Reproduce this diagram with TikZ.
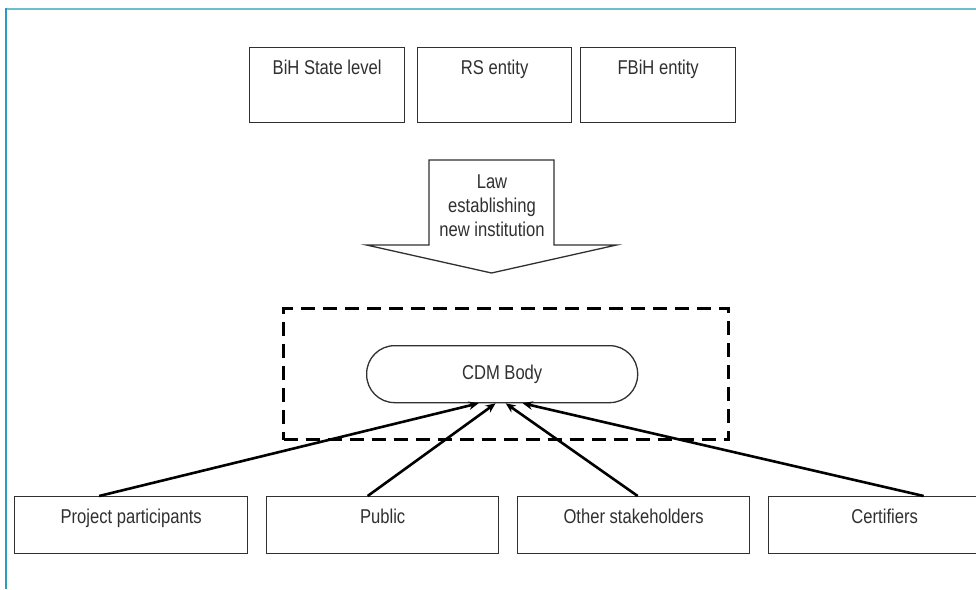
\documentclass[tikz,border=0pt]{standalone}
\usepackage{fontspec}
\setmainfont{Liberation Sans}[FakeStretch=0.83]
\usetikzlibrary{arrows.meta}
\definecolor{frametop}{HTML}{6DBFCB}
\definecolor{frameleft}{HTML}{2A9CC0}
\definecolor{ink}{HTML}{303030}

\begin{document}
\begin{tikzpicture}[x=1pt,y=-1pt,
  box/.style={draw=ink, line width=1.3pt, anchor=north west, inner sep=0pt},
  lbl/.style={text=ink, font=\fontsize{20}{24}\selectfont, inner sep=0pt, anchor=base},
  conn/.style={draw=black, line width=2.6pt, -{Stealth[length=10pt,width=8.5pt]}},
  group/.style={draw=black, line width=3pt, dash pattern=on 14pt off 8pt, anchor=north west, inner sep=0pt},
  pill/.style={draw=ink, line width=1.3pt, rounded corners=28pt, anchor=north west, inner sep=0pt,
    text=ink, font=\fontsize{20}{24}\selectfont},
]
\useasboundingbox (0,0) rectangle (976,589);
\fill[white] (0,0) rectangle (976,589);

% frame rules
\draw[frametop, line width=2pt] (6,9) -- (976,9);
\draw[frameleft, line width=1.5pt] (6,8) -- (6,589);

% government levels
\node[box, minimum width=155pt, minimum height=75pt] (bih) at (249,47) {};
\node[lbl] (bihT) at ([yshift=-27pt]bih.north) {BiH State level};
\node[box, minimum width=154pt, minimum height=75pt] (rs) at (417,47) {};
\node[lbl] (rsT) at ([yshift=-27pt]rs.north) {RS entity};
\node[box, minimum width=155pt, minimum height=75pt] (fbih) at (580,47) {};
\node[lbl] (fbihT) at ([yshift=-27pt]fbih.north) {FBiH entity};

% block arrow for the founding law
\draw[draw=ink, line width=1.3pt, fill=white]
  (429,160) -- (554,160) -- (554,245) -- (616.5,245) -- (491.5,273)
  -- (366.5,245) -- (429,245) -- cycle;
\node[lbl, anchor=center, align=center] (law) at (492,206) {Law\\establishing\\new institution};

% institution group
\node[group, minimum width=445pt, minimum height=131pt] (grp) at (282,307) {};
\node[pill, minimum width=271pt, minimum height=57pt] (cdm) at (366,345) {CDM Body};

% stakeholders
\node[box, minimum width=233pt, minimum height=57pt] (pp) at (14,496) {};
\node[lbl] (ppT) at ([yshift=-27pt]pp.north) {Project participants};
\node[box, minimum width=232pt, minimum height=57pt] (pub) at (266,496) {};
\node[lbl] (pubT) at ([yshift=-27pt]pub.north) {Public};
\node[box, minimum width=232pt, minimum height=57pt] (oth) at (517,496) {};
\node[lbl] (othT) at ([yshift=-27pt]oth.north) {Other stakeholders};
\node[box, minimum width=232pt, minimum height=57pt] (cert) at (768,496) {};
\node[lbl] (certT) at ([yshift=-27pt]cert.north) {Certifiers};

% inputs to the CDM body
\draw[conn] ([xshift=-32pt]pp.north) -- ([xshift=-23.5pt]cdm.south);
\draw[conn] ([xshift=-15pt]pub.north) -- ([xshift=-6.5pt]cdm.south);
\draw[conn] ([xshift=4pt]oth.north) -- ([xshift=3.5pt]cdm.south);
\draw[conn] ([xshift=39pt]cert.north) -- ([xshift=20.5pt]cdm.south);
\end{tikzpicture}
\end{document}
